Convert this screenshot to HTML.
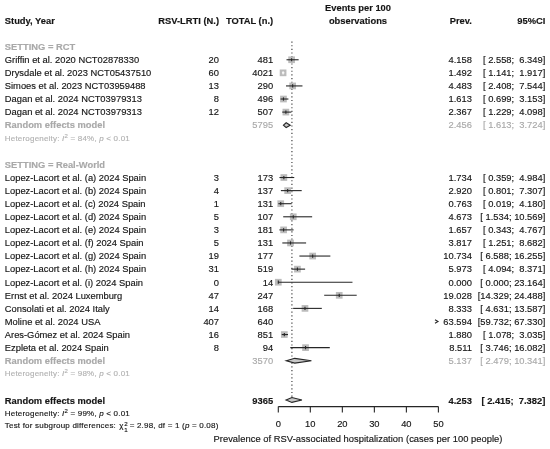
<!DOCTYPE html>
<html><head><meta charset="utf-8"><title>Forest plot</title>
<style>
html,body{margin:0;padding:0;background:#fff;}
#w{position:relative;width:550px;height:449px;overflow:hidden;background:#fff;font-family:"Liberation Sans",sans-serif;font-size:9.36px;color:#151515;-webkit-text-stroke:0.15px currentColor;}
#w div{position:absolute;white-space:pre;line-height:12px;height:12px;}
.b{font-weight:bold;}
.xl{letter-spacing:0.042px;}
.g{color:#a9a9a9;}
.s{font-size:8px;letter-spacing:0.2px;}
.g.s{color:#b2b2b2;}
sup{font-size:6px;vertical-align:baseline;position:relative;top:-3.4px;}
sub{font-size:6px;vertical-align:baseline;position:relative;top:2px;}
.ss{display:inline-block;position:relative;width:3.7px;height:0;}
.ss sup,.ss sub{position:absolute;left:0.6px;line-height:6px;height:6px;font-size:6.2px;}
.ss sup{top:-7.4px;}
.ss sub{top:-1.0px;}
svg{position:absolute;left:0;top:0;}
</style></head><body><div id="w">
<svg width="550" height="449" viewBox="0 0 550 449">

<line x1="291.92" y1="41.5" x2="291.92" y2="400" stroke="#3a3a3a" stroke-width="1.15" stroke-dasharray="1.15 2.5"/>
<rect x="288.26" y="56.41" width="6.7" height="6.7" fill="#bcbcbc"/>
<line x1="286.49" y1="59.76" x2="298.63" y2="59.76" stroke="#262626" stroke-width="1.1"/>
<line x1="291.61" y1="58.16" x2="291.61" y2="61.36" stroke="#262626" stroke-width="1.1"/>
<rect x="279.73" y="69.49" width="6.7" height="6.7" fill="#bcbcbc"/>
<line x1="281.95" y1="72.84" x2="284.44" y2="72.84" stroke="#fff" stroke-width="1.1"/>
<line x1="283.08" y1="71.24" x2="283.08" y2="74.44" stroke="#fff" stroke-width="1.1"/>
<rect x="289.30" y="82.58" width="6.7" height="6.7" fill="#bcbcbc"/>
<line x1="286.01" y1="85.93" x2="302.46" y2="85.93" stroke="#262626" stroke-width="1.1"/>
<line x1="292.65" y1="84.33" x2="292.65" y2="87.53" stroke="#262626" stroke-width="1.1"/>
<rect x="280.11" y="95.67" width="6.7" height="6.7" fill="#bcbcbc"/>
<line x1="280.54" y1="99.02" x2="288.40" y2="99.02" stroke="#262626" stroke-width="1.1"/>
<line x1="283.46" y1="97.42" x2="283.46" y2="100.62" stroke="#262626" stroke-width="1.1"/>
<rect x="282.53" y="108.75" width="6.7" height="6.7" fill="#bcbcbc"/>
<line x1="282.24" y1="112.10" x2="291.42" y2="112.10" stroke="#262626" stroke-width="1.1"/>
<line x1="285.88" y1="110.50" x2="285.88" y2="113.70" stroke="#262626" stroke-width="1.1"/>
<path d="M283.46 125.19 L286.16 122.79 L290.22 125.19 L286.16 127.59 Z" fill="#c8c8c8" stroke="#262626" stroke-width="1.1"/>
<rect x="280.50" y="174.18" width="6.7" height="6.7" fill="#bcbcbc"/>
<line x1="279.45" y1="177.53" x2="294.26" y2="177.53" stroke="#262626" stroke-width="1.1"/>
<line x1="283.85" y1="175.93" x2="283.85" y2="179.13" stroke="#262626" stroke-width="1.1"/>
<rect x="284.30" y="187.27" width="6.7" height="6.7" fill="#bcbcbc"/>
<line x1="280.86" y1="190.62" x2="301.70" y2="190.62" stroke="#262626" stroke-width="1.1"/>
<line x1="287.65" y1="189.02" x2="287.65" y2="192.22" stroke="#262626" stroke-width="1.1"/>
<rect x="277.39" y="200.35" width="6.7" height="6.7" fill="#bcbcbc"/>
<line x1="278.36" y1="203.70" x2="291.68" y2="203.70" stroke="#262626" stroke-width="1.1"/>
<line x1="280.74" y1="202.10" x2="280.74" y2="205.30" stroke="#262626" stroke-width="1.1"/>
<rect x="289.91" y="213.44" width="6.7" height="6.7" fill="#bcbcbc"/>
<line x1="283.21" y1="216.79" x2="312.14" y2="216.79" stroke="#262626" stroke-width="1.1"/>
<line x1="293.26" y1="215.19" x2="293.26" y2="218.39" stroke="#262626" stroke-width="1.1"/>
<rect x="280.26" y="226.53" width="6.7" height="6.7" fill="#bcbcbc"/>
<line x1="279.40" y1="229.88" x2="293.56" y2="229.88" stroke="#262626" stroke-width="1.1"/>
<line x1="283.61" y1="228.28" x2="283.61" y2="231.48" stroke="#262626" stroke-width="1.1"/>
<rect x="287.17" y="239.61" width="6.7" height="6.7" fill="#bcbcbc"/>
<line x1="282.31" y1="242.96" x2="306.10" y2="242.96" stroke="#262626" stroke-width="1.1"/>
<line x1="290.52" y1="241.36" x2="290.52" y2="244.56" stroke="#262626" stroke-width="1.1"/>
<rect x="309.32" y="252.70" width="6.7" height="6.7" fill="#bcbcbc"/>
<line x1="299.39" y1="256.05" x2="330.35" y2="256.05" stroke="#262626" stroke-width="1.1"/>
<line x1="312.67" y1="254.45" x2="312.67" y2="257.65" stroke="#262626" stroke-width="1.1"/>
<rect x="294.08" y="265.78" width="6.7" height="6.7" fill="#bcbcbc"/>
<line x1="291.41" y1="269.13" x2="305.10" y2="269.13" stroke="#262626" stroke-width="1.1"/>
<line x1="297.43" y1="267.53" x2="297.43" y2="270.73" stroke="#262626" stroke-width="1.1"/>
<rect x="274.95" y="278.87" width="6.7" height="6.7" fill="#bcbcbc"/>
<line x1="278.30" y1="282.22" x2="352.47" y2="282.22" stroke="#262626" stroke-width="1.1"/>
<line x1="278.30" y1="280.62" x2="278.30" y2="283.82" stroke="#262626" stroke-width="1.1"/>
<rect x="335.88" y="291.96" width="6.7" height="6.7" fill="#bcbcbc"/>
<line x1="324.18" y1="295.31" x2="356.71" y2="295.31" stroke="#262626" stroke-width="1.1"/>
<line x1="339.23" y1="293.71" x2="339.23" y2="296.91" stroke="#262626" stroke-width="1.1"/>
<rect x="301.63" y="305.04" width="6.7" height="6.7" fill="#bcbcbc"/>
<line x1="293.13" y1="308.39" x2="321.81" y2="308.39" stroke="#262626" stroke-width="1.1"/>
<line x1="304.98" y1="306.79" x2="304.98" y2="309.99" stroke="#262626" stroke-width="1.1"/>
<path d="M435 319.68 L438 321.48 L435 323.28" fill="none" stroke="#262626" stroke-width="1.1"/>
<rect x="280.97" y="331.21" width="6.7" height="6.7" fill="#bcbcbc"/>
<line x1="281.75" y1="334.56" x2="288.02" y2="334.56" stroke="#262626" stroke-width="1.1"/>
<line x1="284.32" y1="332.96" x2="284.32" y2="336.16" stroke="#262626" stroke-width="1.1"/>
<rect x="302.20" y="344.30" width="6.7" height="6.7" fill="#bcbcbc"/>
<line x1="290.29" y1="347.65" x2="329.79" y2="347.65" stroke="#262626" stroke-width="1.1"/>
<line x1="305.55" y1="346.05" x2="305.55" y2="349.25" stroke="#262626" stroke-width="1.1"/>
<path d="M286.24 360.74 L294.75 358.34 L311.41 360.74 L294.75 363.14 Z" fill="#c8c8c8" stroke="#262626" stroke-width="1.1"/>
<path d="M286.03 399.99 L291.92 397.59 L301.94 399.99 L291.92 402.39 Z" fill="#c8c8c8" stroke="#262626" stroke-width="1.1"/>
<line x1="278.3" y1="406.6" x2="438.4" y2="406.6" stroke="#262626" stroke-width="1.1"/>
<line x1="278.3" y1="406.6" x2="278.3" y2="412.40000000000003" stroke="#262626" stroke-width="1.1"/>
<line x1="310.32" y1="406.6" x2="310.32" y2="412.40000000000003" stroke="#262626" stroke-width="1.1"/>
<line x1="342.34000000000003" y1="406.6" x2="342.34000000000003" y2="412.40000000000003" stroke="#262626" stroke-width="1.1"/>
<line x1="374.36" y1="406.6" x2="374.36" y2="412.40000000000003" stroke="#262626" stroke-width="1.1"/>
<line x1="406.38" y1="406.6" x2="406.38" y2="412.40000000000003" stroke="#262626" stroke-width="1.1"/>
<line x1="438.4" y1="406.6" x2="438.4" y2="412.40000000000003" stroke="#262626" stroke-width="1.1"/>
</svg>

<div class="b" style="left:4.8px;top:15px">Study, Year</div>
<div class="b" style="right:331.00px;text-align:right;top:15px">RSV-LRTI (N.)</div>
<div class="b" style="right:276.90px;text-align:right;top:15px">TOTAL (n.)</div>
<div class="b" style="left:208.00px;width:300px;text-align:center;top:2px">Events per 100</div>
<div class="b" style="left:208.00px;width:300px;text-align:center;top:15px">observations</div>
<div class="b" style="right:78.10px;text-align:right;top:15px">Prev.</div>
<div class="b" style="right:4.70px;text-align:right;top:15px">95%CI</div>
<div class="b g" style="left:4.8px;top:41px">SETTING = RCT</div>
<div style="left:4.8px;top:54px">Griffin et al. 2020 NCT02878330</div>
<div style="right:331.00px;text-align:right;top:54px">20</div>
<div style="right:276.90px;text-align:right;top:54px">481</div>
<div style="right:78.10px;text-align:right;top:54px">4.158</div>
<div style="right:4.70px;text-align:right;top:54px">[ 2.558;  6.349]</div>
<div style="left:4.8px;top:67px">Drysdale et al. 2023 NCT05437510</div>
<div style="right:331.00px;text-align:right;top:67px">60</div>
<div style="right:276.90px;text-align:right;top:67px">4021</div>
<div style="right:78.10px;text-align:right;top:67px">1.492</div>
<div style="right:4.70px;text-align:right;top:67px">[ 1.141;  1.917]</div>
<div style="left:4.8px;top:80px">Simoes et al. 2023 NCT03959488</div>
<div style="right:331.00px;text-align:right;top:80px">13</div>
<div style="right:276.90px;text-align:right;top:80px">290</div>
<div style="right:78.10px;text-align:right;top:80px">4.483</div>
<div style="right:4.70px;text-align:right;top:80px">[ 2.408;  7.544]</div>
<div style="left:4.8px;top:93px">Dagan et al. 2024 NCT03979313</div>
<div style="right:331.00px;text-align:right;top:93px">8</div>
<div style="right:276.90px;text-align:right;top:93px">496</div>
<div style="right:78.10px;text-align:right;top:93px">1.613</div>
<div style="right:4.70px;text-align:right;top:93px">[ 0.699;  3.153]</div>
<div style="left:4.8px;top:106px">Dagan et al. 2024 NCT03979313</div>
<div style="right:331.00px;text-align:right;top:106px">12</div>
<div style="right:276.90px;text-align:right;top:106px">507</div>
<div style="right:78.10px;text-align:right;top:106px">2.367</div>
<div style="right:4.70px;text-align:right;top:106px">[ 1.229;  4.098]</div>
<div class="b g" style="left:4.8px;top:119px">Random effects model</div>
<div class="g" style="right:276.90px;text-align:right;top:119px">5795</div>
<div class="g" style="right:78.10px;text-align:right;top:119px">2.456</div>
<div class="g" style="right:4.70px;text-align:right;top:119px">[ 1.613;  3.724]</div>
<div class="g s" style="left:4.8px;top:133px">Heterogeneity: <i>I</i><sup>2</sup> = 84%, <i>p</i> &lt; 0.01</div>
<div class="b g" style="left:4.8px;top:159px">SETTING = Real-World</div>
<div style="left:4.8px;top:172px">Lopez-Lacort et al. (a) 2024 Spain</div>
<div style="right:331.00px;text-align:right;top:172px">3</div>
<div style="right:276.90px;text-align:right;top:172px">173</div>
<div style="right:78.10px;text-align:right;top:172px">1.734</div>
<div style="right:4.70px;text-align:right;top:172px">[ 0.359;  4.984]</div>
<div style="left:4.8px;top:185px">Lopez-Lacort et al. (b) 2024 Spain</div>
<div style="right:331.00px;text-align:right;top:185px">4</div>
<div style="right:276.90px;text-align:right;top:185px">137</div>
<div style="right:78.10px;text-align:right;top:185px">2.920</div>
<div style="right:4.70px;text-align:right;top:185px">[ 0.801;  7.307]</div>
<div style="left:4.8px;top:198px">Lopez-Lacort et al. (c) 2024 Spain</div>
<div style="right:331.00px;text-align:right;top:198px">1</div>
<div style="right:276.90px;text-align:right;top:198px">131</div>
<div style="right:78.10px;text-align:right;top:198px">0.763</div>
<div style="right:4.70px;text-align:right;top:198px">[ 0.019;  4.180]</div>
<div style="left:4.8px;top:211px">Lopez-Lacort et al. (d) 2024 Spain</div>
<div style="right:331.00px;text-align:right;top:211px">5</div>
<div style="right:276.90px;text-align:right;top:211px">107</div>
<div style="right:78.10px;text-align:right;top:211px">4.673</div>
<div style="right:4.70px;text-align:right;top:211px">[ 1.534; 10.569]</div>
<div style="left:4.8px;top:224px">Lopez-Lacort et al. (e) 2024 Spain</div>
<div style="right:331.00px;text-align:right;top:224px">3</div>
<div style="right:276.90px;text-align:right;top:224px">181</div>
<div style="right:78.10px;text-align:right;top:224px">1.657</div>
<div style="right:4.70px;text-align:right;top:224px">[ 0.343;  4.767]</div>
<div style="left:4.8px;top:237px">Lopez-Lacort et al. (f) 2024 Spain</div>
<div style="right:331.00px;text-align:right;top:237px">5</div>
<div style="right:276.90px;text-align:right;top:237px">131</div>
<div style="right:78.10px;text-align:right;top:237px">3.817</div>
<div style="right:4.70px;text-align:right;top:237px">[ 1.251;  8.682]</div>
<div style="left:4.8px;top:250px">Lopez-Lacort et al. (g) 2024 Spain</div>
<div style="right:331.00px;text-align:right;top:250px">19</div>
<div style="right:276.90px;text-align:right;top:250px">177</div>
<div style="right:78.10px;text-align:right;top:250px">10.734</div>
<div style="right:4.70px;text-align:right;top:250px">[ 6.588; 16.255]</div>
<div style="left:4.8px;top:263px">Lopez-Lacort et al. (h) 2024 Spain</div>
<div style="right:331.00px;text-align:right;top:263px">31</div>
<div style="right:276.90px;text-align:right;top:263px">519</div>
<div style="right:78.10px;text-align:right;top:263px">5.973</div>
<div style="right:4.70px;text-align:right;top:263px">[ 4.094;  8.371]</div>
<div style="left:4.8px;top:277px">Lopez-Lacort et al. (i) 2024 Spain</div>
<div style="right:331.00px;text-align:right;top:277px">0</div>
<div style="right:276.90px;text-align:right;top:277px">14</div>
<div style="right:78.10px;text-align:right;top:277px">0.000</div>
<div style="right:4.70px;text-align:right;top:277px">[ 0.000; 23.164]</div>
<div style="left:4.8px;top:290px">Ernst et al. 2024 Luxemburg</div>
<div style="right:331.00px;text-align:right;top:290px">47</div>
<div style="right:276.90px;text-align:right;top:290px">247</div>
<div style="right:78.10px;text-align:right;top:290px">19.028</div>
<div style="right:4.70px;text-align:right;top:290px">[14.329; 24.488]</div>
<div style="left:4.8px;top:303px">Consolati et al. 2024 Italy</div>
<div style="right:331.00px;text-align:right;top:303px">14</div>
<div style="right:276.90px;text-align:right;top:303px">168</div>
<div style="right:78.10px;text-align:right;top:303px">8.333</div>
<div style="right:4.70px;text-align:right;top:303px">[ 4.631; 13.587]</div>
<div style="left:4.8px;top:316px">Moline et al. 2024 USA</div>
<div style="right:331.00px;text-align:right;top:316px">407</div>
<div style="right:276.90px;text-align:right;top:316px">640</div>
<div style="right:78.10px;text-align:right;top:316px">63.594</div>
<div style="right:4.70px;text-align:right;top:316px">[59.732; 67.330]</div>
<div style="left:4.8px;top:329px">Ares-Gómez et al. 2024 Spain</div>
<div style="right:331.00px;text-align:right;top:329px">16</div>
<div style="right:276.90px;text-align:right;top:329px">851</div>
<div style="right:78.10px;text-align:right;top:329px">1.880</div>
<div style="right:4.70px;text-align:right;top:329px">[ 1.078;  3.035]</div>
<div style="left:4.8px;top:342px">Ezpleta et al. 2024 Spain</div>
<div style="right:331.00px;text-align:right;top:342px">8</div>
<div style="right:276.90px;text-align:right;top:342px">94</div>
<div style="right:78.10px;text-align:right;top:342px">8.511</div>
<div style="right:4.70px;text-align:right;top:342px">[ 3.746; 16.082]</div>
<div class="b g" style="left:4.8px;top:355px">Random effects model</div>
<div class="g" style="right:276.90px;text-align:right;top:355px">3570</div>
<div class="g" style="right:78.10px;text-align:right;top:355px">5.137</div>
<div class="g" style="right:4.70px;text-align:right;top:355px">[ 2.479; 10.341]</div>
<div class="g s" style="left:4.8px;top:368px">Heterogeneity: <i>I</i><sup>2</sup> = 98%, <i>p</i> &lt; 0.01</div>
<div class="b" style="left:4.8px;top:395px">Random effects model</div>
<div class="b" style="right:276.90px;text-align:right;top:395px">9365</div>
<div class="b" style="right:78.10px;text-align:right;top:395px">4.253</div>
<div class="b" style="right:4.70px;text-align:right;top:395px">[ 2.415;  7.382]</div>
<div class="s" style="left:4.8px;top:408px">Heterogeneity: <i>I</i><sup>2</sup> = 99%, <i>p</i> &lt; 0.01</div>
<div class="s" style="left:4.8px;top:420px">Test for subgroup differences: <span style='margin-left:0.7px'>χ</span><span class='ss'><sup>2</sup><sub>1</sub></span> = 2.98, df = 1 (<i>p</i> = 0.08)</div>
<div class="ax" style="left:128.30px;width:300px;text-align:center;top:418px">0</div>
<div class="ax" style="left:160.32px;width:300px;text-align:center;top:418px">10</div>
<div class="ax" style="left:192.34px;width:300px;text-align:center;top:418px">20</div>
<div class="ax" style="left:224.36px;width:300px;text-align:center;top:418px">30</div>
<div class="ax" style="left:256.38px;width:300px;text-align:center;top:418px">40</div>
<div class="ax" style="left:288.40px;width:300px;text-align:center;top:418px">50</div>
<div class="ax xl" style="left:208.00px;width:300px;text-align:center;top:433px">Prevalence of RSV-associated hospitalization (cases per 100 people)</div>
</div></body></html>
